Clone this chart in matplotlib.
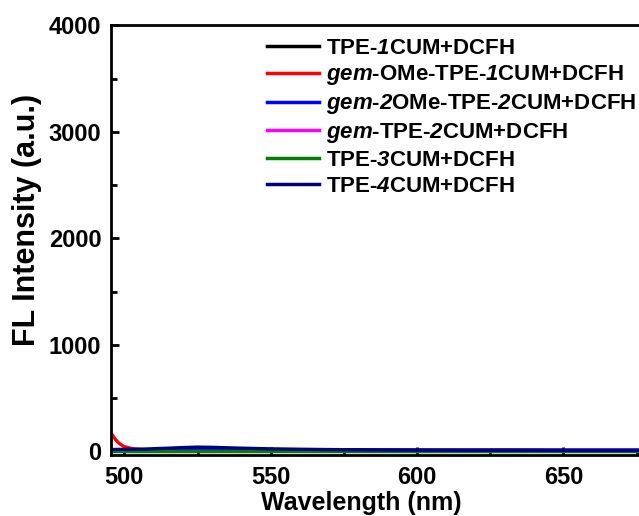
import matplotlib
matplotlib.use("Agg")
import matplotlib.pyplot as plt
from matplotlib.ticker import MultipleLocator

plt.rcParams['font.family'] = ['Liberation Sans', 'DejaVu Sans']
plt.rcParams['font.weight'] = 'bold'
plt.rcParams['mathtext.fontset'] = 'custom'
# math segments are only used for the italic parts of the legend labels
plt.rcParams['mathtext.it'] = 'Liberation Sans:bold:italic'
plt.rcParams['mathtext.rm'] = 'Liberation Sans:bold:italic'

# wavelength grid (nm) and intensities
wavelength = [496, 497, 498, 499, 500, 502, 504, 507, 510, 515, 520, 525, 530, 535, 540,
              550, 560, 570, 580, 590, 600, 610, 620, 630, 640, 650, 660, 670, 680]
tpe1 = [6, 6, 5, 5, 5, 5, 5, 5, 5, 5, 5, 5, 5, 5, 5,
        5, 5, 5, 5, 5, 5, 5, 5, 5, 5, 5, 5, 5, 5]
gem_ome_tpe1 = [150, 110, 80, 60, 45, 30, 20, 14, 11, 10, 10, 10, 10, 10, 10,
                9, 9, 9, 9, 9, 9, 9, 10, 12, 9, 8, 8, 8, 8]
gem_2ome_tpe2 = [15, 15, 15, 15, 15, 15, 15, 15, 15, 15, 15, 15, 15, 15, 15,
                 14, 14, 14, 14, 14, 13, 13, 13, 13, 13, 13, 13, 13, 13]
gem_tpe2 = [6, 6, 6, 6, 6, 6, 6, 6, 6, 6, 6, 6, 6, 6, 6,
            6, 6, 6, 6, 6, 6, 6, 6, 6, 6, 6, 6, 6, 6]
tpe3 = [4, 4, 4, 4, 4, 4, 4, 4, 4, 4, 4, 4, 4, 4, 4,
        4, 4, 4, 4, 4, 4, 4, 4, 4, 4, 4, 4, 4, 4]
tpe4 = [18, 18, 19, 19, 20, 20, 21, 22, 25, 30, 36, 40, 38, 34, 30,
        24, 20, 17, 15, 13, 12, 11, 10, 10, 10, 9, 9, 9, 9]

labels = [r'TPE-$\mathrm{1}$CUM+DCFH',
          r'$\mathit{gem}$-OMe-TPE-$\mathrm{1}$CUM+DCFH',
          r'$\mathit{gem}$-$\mathrm{2}$OMe-TPE-$\mathrm{2}$CUM+DCFH',
          r'$\mathit{gem}$-TPE-$\mathrm{2}$CUM+DCFH',
          r'TPE-$\mathrm{3}$CUM+DCFH',
          r'TPE-$\mathrm{4}$CUM+DCFH']
colors = ['black', 'red', 'blue', 'magenta', 'green', 'navy']
series = [tpe1, gem_ome_tpe1, gem_2ome_tpe2, gem_tpe2, tpe3, tpe4]

fig = plt.figure(figsize=(6.39, 5.16), dpi=100)
ax = fig.add_axes([0.174, 0.118, 0.845, 0.833])

for y, c, lab in zip(series, colors, labels):
    ax.plot(wavelength, y, color=c, lw=2.4, label=lab)

ax.set_xlim(495.5, 680)
ax.set_ylim(-35, 4000)
ax.xaxis.set_major_locator(MultipleLocator(50))
ax.xaxis.set_minor_locator(MultipleLocator(25))
ax.yaxis.set_major_locator(MultipleLocator(1000))
ax.yaxis.set_minor_locator(MultipleLocator(500))
ax.tick_params(which='both', direction='in', width=2, labelsize=17)
ax.tick_params(which='major', length=6)
ax.tick_params(which='minor', length=4)
ax.tick_params(axis='x', which='major', pad=8)
ax.tick_params(axis='y', which='major', pad=7)
for s in ax.spines.values():
    s.set_linewidth(2)

ax.set_xlabel('Wavelength (nm)', fontsize=18, fontweight='bold', labelpad=1)
ax.set_ylabel('FL Intensity (a.u.)', fontsize=22, fontweight='bold', labelpad=5)
# the visible plot is cropped on the right, so labels sit left of axes centre
ax.xaxis.label.set_x(0.463)
ax.yaxis.label.set_y(0.547)

leg = ax.legend(loc='upper left', bbox_to_anchor=(0.252, 1.018), frameon=False,
                fontsize=16, handlelength=2.35, handletextpad=0.3, labelspacing=0.22)
for line in leg.get_lines():
    line.set_linewidth(2.5)

fig.savefig('out.png', dpi=100)
